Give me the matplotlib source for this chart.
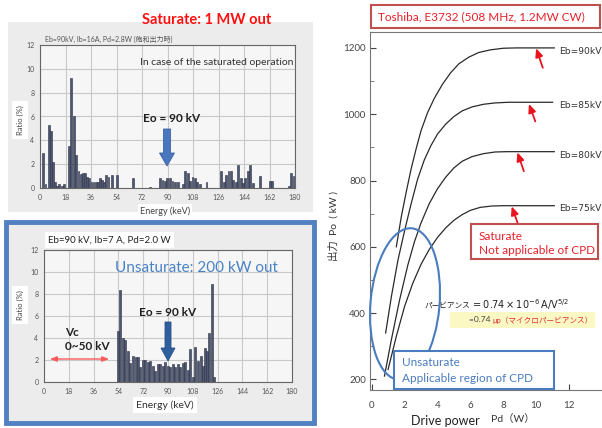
import matplotlib
matplotlib.use("Agg")
import matplotlib.pyplot as plt
from matplotlib.patches import Rectangle, Ellipse

plt.rcParams['font.family'] = ['Lato', 'Noto Sans CJK JP', 'DejaVu Sans']

# ---- data ----
# saturated spectrum (Eb=90kV, Ib=16A, Pd=2.8W)
sat_energy = [2.4, 3.9, 6.1, 7.6, 9.2, 10.7, 12.1, 13.6, 15.4, 17.1, 20.2, 22.1, 23.8, 25.5,
              27.2, 28.7, 30.2, 31.8, 33.3, 34.8, 36.3, 37.8, 39.3, 40.8, 42.3, 43.8, 45.3,
              46.8, 48.4, 50.8, 54.5, 65.4, 77.7, 84.8, 86.5, 88.2, 89.9, 91.8, 93.5, 95.2,
              97.6, 100.9, 102.6, 104.3, 106.0, 107.7, 109.4, 111.1, 112.8, 117.5, 128.0,
              129.7, 131.4, 133.1, 134.8, 136.5, 138.2, 139.9, 141.6, 143.3, 145.0, 146.7,
              148.4, 150.1, 155.5, 162.2, 163.9, 175.7, 177.2, 178.9]
sat_ratio = [2.9, 0.3, 5.3, 4.8, 2.2, 0.5, 0.2, 0.3, 0.2, 0.3, 3.5, 9.2, 6.0, 2.8,
             1.4, 1.2, 1.3, 1.3, 0.9, 0.8, 0.5, 0.5, 0.5, 0.5, 0.8, 0.7, 0.5,
             1.1, 0.9, 1.1, 1.1, 0.8, 0.1, 0.8, 0.7, 0.6, 0.8, 0.8, 0.6, 0.5,
             0.5, 0.3, 1.4, 1.3, 0.6, 0.9, 0.8, 0.5, 0.3, 0.5, 1.4,
             0.5, 1.1, 1.4, 1.4, 0.7, 0.5, 1.9, 0.8, 0.4, 0.8, 1.4,
             1.9, 0.4, 1.0, 0.6, 0.6, 0.2, 1.3, 1.0]

# unsaturated spectrum (Eb=90kV, Ib=7A, Pd=2.0W)
uns_energy = [53.8, 55.4, 57.4, 59.1, 61.0, 62.7, 64.6, 66.6, 68.3, 70.0, 71.9, 73.6, 75.5,
              77.2, 79.2, 80.9, 82.8, 84.5, 86.4, 88.1, 90.1, 91.8, 93.7, 95.4, 97.3, 99.0,
              101.0, 102.7, 104.6, 106.3, 108.2, 109.9, 111.9, 113.6, 115.5, 117.0, 118.5,
              120.1, 121.7, 123.4]
uns_ratio = [4.6, 8.4, 4.0, 3.8, 2.8, 1.7, 2.4, 2.3, 2.3, 1.4, 2.0, 2.0, 1.8,
             1.95, 1.5, 1.0, 1.6, 1.6, 1.5, 1.8, 1.5, 1.35, 1.6, 1.4, 1.65, 1.35,
             1.7, 1.8, 1.05, 3.0, 0.5, 3.15, 1.95, 2.4, 1.5, 3.1, 2.8,
             4.5, 8.9, 0.45]

energy_ticks = [0, 18, 36, 54, 72, 90, 108, 126, 144, 162, 180]
ratio_ticks = [0, 2, 4, 6, 8, 10, 12]

# output power vs drive power, Toshiba E3732
eb_labels = ['Eb=90kV', 'Eb=85kV', 'Eb=80kV', 'Eb=75kV']
pd_90 = [1.5, 1.8, 2.1, 2.4, 2.7, 3.0, 3.4, 3.8, 4.3, 4.8, 5.3, 5.9, 6.5, 7.2, 8.0, 8.8, 11.1]
po_90 = [600, 690, 765, 835, 895, 950, 1005, 1047, 1090, 1125, 1152, 1172, 1186, 1194,
         1199, 1200, 1200]
pd_85 = [0.85, 1.2, 1.6, 2.0, 2.4, 2.8, 3.2, 3.6, 4.0, 4.5, 5.0, 5.5, 6.1, 6.8, 7.5, 8.3, 11.0]
po_85 = [340, 450, 560, 648, 730, 805, 862, 905, 940, 970, 993, 1010, 1022, 1030, 1034,
         1036, 1036]
pd_80 = [0.78, 1.2, 1.7, 2.2, 2.6, 3.0, 3.5, 4.0, 4.5, 5.0, 5.5, 6.1, 6.8, 7.5, 8.2, 11.1]
po_80 = [210, 320, 440, 545, 615, 672, 730, 775, 810, 838, 858, 872, 881, 886, 887, 887]
pd_75 = [1.0, 1.5, 2.0, 2.5, 3.0, 3.5, 4.0, 4.5, 5.0, 5.5, 6.0, 6.6, 7.3, 8.0, 11.1]
po_75 = [230, 330, 420, 490, 547, 592, 628, 657, 680, 697, 710, 719, 723, 724, 724]
# saturation markers (tip, tail) for the red arrows
arrow_tip = [(10.0, 1199), (9.56, 1031), (8.86, 885), (8.51, 722)]
arrow_tail = [(10.4, 1140), (9.95, 978), (9.25, 828), (8.9, 668)]
label_y = [1189, 1025, 876, 717]

W, H = 602, 428
fig = plt.figure(figsize=(W / 100, H / 100), dpi=100)


def px_axes(l, t, r, b, z):
    return fig.add_axes([l / W, 1 - b / H, (r - l) / W, (b - t) / H], zorder=z)


# pixel overlay for backgrounds
bg = fig.add_axes([0, 0, 1, 1], zorder=0)
bg.set_xlim(0, W)
bg.set_ylim(H, 0)
bg.axis('off')
bg.add_patch(Rectangle((8, 22), 305, 190, fc='#ececec', ec='none'))
bg.add_patch(Rectangle((6, 222), 308, 201, fc='#ececec', ec='#5181c0', lw=3.5))

bar_fc = '#4e5670'
bar_ec = '#2c3146'


def hist_axes(ax):
    ax.set_facecolor('#f6f6f6')
    ax.set_xlim(0, 180)
    ax.set_ylim(0, 12)
    ax.set_xticks(energy_ticks)
    ax.set_yticks(ratio_ticks)
    ax.grid(True, color='#c9c9c9', lw=0.8)
    ax.set_axisbelow(True)
    ax.tick_params(length=0, labelsize=5, colors='#555555', pad=4)
    for s in ax.spines.values():
        s.set_color('#666666')
        s.set_linewidth(0.8)


# ---- top-left histogram (saturated) ----
ax1 = px_axes(40, 45, 295, 188, 1)
hist_axes(ax1)
ax1.bar(sat_energy, sat_ratio, width=1.3, color=bar_fc, edgecolor=bar_ec, lw=0.4)

# ---- bottom-left histogram (unsaturated) ----
ax2 = px_axes(44, 250, 292, 382, 1)
hist_axes(ax2)
ax2.bar(uns_energy, uns_ratio, width=1.45, color=bar_fc, edgecolor=bar_ec, lw=0.4)

# ---- right: Po vs Pd ----
ax3 = px_axes(370, 32, 602, 390, 1)
ax3.set_xlim(-0.1, 14.0)
ax3.set_ylim(168, 1248)
for xs, ys in [(pd_90, po_90), (pd_85, po_85), (pd_80, po_80), (pd_75, po_75)]:
    ax3.plot(xs, ys, color='#2a2a2a', lw=0.9, solid_joinstyle='round')
ax3.set_xticks([0, 2, 4, 6, 8, 10, 12])
ax3.set_yticks([200, 400, 600, 800, 1000, 1200])
ax3.set_yticks(range(200, 1300, 100), minor=True)
ax3.tick_params(direction='in', length=4, labelsize=7, colors='#444444', pad=3)
ax3.tick_params(axis='x', pad=8)
ax3.tick_params(which='minor', direction='in', length=3, colors='#666666')
ax3.spines['right'].set_visible(False)
for s in ['left', 'top', 'bottom']:
    ax3.spines[s].set_color('#777777')
    ax3.spines[s].set_linewidth(0.8)
for (tx, ty), (sx, sy) in zip(arrow_tip, arrow_tail):
    ax3.annotate('', xy=(tx, ty), xytext=(sx, sy),
                 arrowprops=dict(arrowstyle='-|>,head_width=0.22,head_length=0.5',
                                 color='#e8141e', lw=1.3, shrinkA=0, shrinkB=0))
for lab, ly in zip(eb_labels, label_y):
    ax3.text(11.4, ly, lab, fontsize=6.6, color='#333333', va='center',
             family=['DejaVu Sans'])

# ---- foreground annotations in pixel coords ----
fg = fig.add_axes([0, 0, 1, 1], zorder=10)
fg.set_xlim(0, W)
fg.set_ylim(H, 0)
fg.axis('off')

fg.text(207, 20, 'Saturate: 1 MW out', color='#ff1010', fontsize=10.5,
        fontweight='bold', ha='center', va='center')
fg.text(45, 39, 'Eb=90kV, Ib=16A, Pd=2.8W (飽和出力時)', fontsize=5, color='#555555',
        va='center')
fg.text(140, 62, 'In case of the saturated operation', fontsize=7.5, color='#333333',
        va='center')
fg.text(172, 118, 'Eo = 90 kV', fontsize=8.5, fontweight='bold', color='#1e1e1e',
        ha='center', va='center')
fg.arrow(167, 129, 0, 37, width=7, head_width=15, head_length=13,
         length_includes_head=True, fc='#4a76bf', ec='#3a62a0', lw=0.6)
fg.text(20, 120, 'Ratio (%)', fontsize=5.5, rotation=90, ha='center', va='center',
        color='#444444', bbox=dict(fc='white', ec='none', pad=3))
fg.text(165, 211, 'Energy (keV)', fontsize=6.5, ha='center', va='center',
        color='#444444', bbox=dict(fc='white', ec='none', pad=1.5))

fg.text(48, 240, 'Eb=90 kV, Ib=7 A, Pd=2.0 W', fontsize=7, color='#222222',
        va='center', bbox=dict(fc='white', ec='none', pad=2.5))
fg.text(196, 268, 'Unsaturate: 200 kW out', color='#4a82c6', fontsize=11,
        ha='center', va='center')
fg.text(168, 313, 'Eo = 90 kV', fontsize=8.5, fontweight='bold', color='#1e1e1e',
        ha='center', va='center')
fg.arrow(168, 322, 0, 39, width=6, head_width=14, head_length=13,
         length_includes_head=True, fc='#2f5f9e', ec='#284f86', lw=0.6)
fg.text(65, 333, 'Vc', fontsize=8.5, fontweight='bold', color='#222222', va='center')
fg.text(65, 346, '0~50 kV', fontsize=8.5, fontweight='bold', color='#222222',
        va='center')
fg.annotate('', xy=(47, 359), xytext=(112, 359),
            arrowprops=dict(arrowstyle='<|-|>,head_width=0.15,head_length=0.4',
                            color='#ff5a5a', lw=1.0))
fg.text(20, 305, 'Ratio (%)', fontsize=5.5, rotation=90, ha='center', va='center',
        color='#444444', bbox=dict(fc='white', ec='none', pad=3))
fg.text(165, 405, 'Energy (keV)', fontsize=7.5, ha='center', va='center',
        color='#333333', bbox=dict(fc='white', ec='none', pad=2))

# right panel annotations
fg.add_patch(Rectangle((371, 5), 229, 23, fc='white', ec='#c0504d', lw=1.5))
fg.text(378, 16.5, 'Toshiba, E3732 (508 MHz, 1.2MW CW)', fontsize=8.5,
        color='#e8202a', va='center')
fg.add_patch(Rectangle((471, 224), 127, 35, fc='white', ec='#c0504d', lw=1.5))
fg.text(479, 236, 'Saturate', fontsize=8.5, color='#e8202a', va='center')
fg.text(479, 250, 'Not applicable of CPD', fontsize=8.5, color='#e8202a', va='center')
fg.add_patch(Ellipse((405, 304), 69, 152, angle=5, fc='none', ec='#4a7cc0', lw=1.5))
fg.add_patch(Rectangle((394, 351), 160, 38, fc='white', ec='#4a7cc0', lw=1.5))
fg.text(402, 363, 'Unsaturate', fontsize=8.5, color='#4a7cc0', va='center')
fg.text(402, 378, 'Applicable region of CPD', fontsize=8.5, color='#4a7cc0',
        va='center')

fg.add_patch(Rectangle((450, 312), 145, 16, fc='#fbf8c4', ec='none'))
t1 = fg.text(425, 305, 'パービアンス', fontsize=5.5, color='#222222', va='center')
fg.annotate(r'$=0.74\times10^{-6}\,\mathrm{A/V}^{5/2}$', xy=(1, 0.5), xycoords=t1,
            fontsize=7, color='#222222', va='center')
t2 = fg.text(469, 320, '=0.74 ', fontsize=6, color='#444444', va='center')
fg.annotate('μp（マイクロパービアンス）', xy=(1, 0.5), xycoords=t2,
            fontsize=5.5, color='#e03030', va='center')

fg.text(333, 226, '出力  Po  ( kW )', fontsize=7.5, rotation=90, ha='center',
        va='center', color='#333333')
fg.text(513, 419, 'Pd（W）', fontsize=7.5, ha='center', va='center', color='#333333')
fg.text(445, 427, 'Drive power', fontsize=9, ha='center', va='bottom', color='#222222')

fig.savefig('out.png', dpi=100)
